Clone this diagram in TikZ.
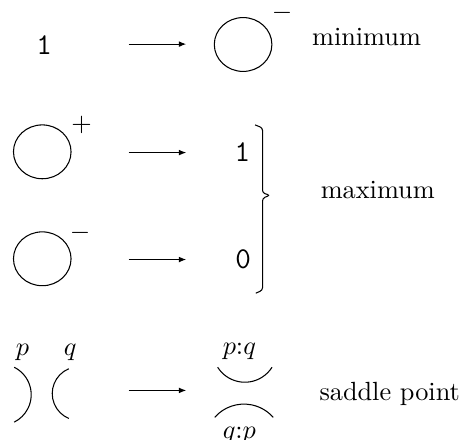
\documentclass[tikz,border=0pt]{standalone}
\usetikzlibrary{arrows.meta}
\begin{document}
\begin{tikzpicture}[
  arr/.style={-{Latex[length=2.8pt,width=2.2pt]}},
  digit/.style={font=\ttfamily\fontsize{11.5}{13}\selectfont},
  sign/.style={anchor=base, inner sep=0pt, text height=0.6em, text depth=0.1em},
  word/.style={anchor=base}]
\useasboundingbox (0,0) rectangle (6.257,-5.882);
% minimum
\coordinate (c1) at (3.25,-0.595);
\coordinate (a1s) at (1.72,-0.59);
\coordinate (a1e) at (2.49,-0.59);
\node[digit] (one1) at (0.59,-0.60) {1};
\draw[arr] (a1s) -- (a1e);
\draw (c1) ellipse [x radius=0.385, y radius=0.36];
\node[sign] (m1) at (3.77,-0.26) {$-$};
\node[word] (minw) at (4.90,-0.61) {minimum};
% maximum
\coordinate (c2) at (0.565,-2.03);
\coordinate (c3) at (0.565,-3.46);
\coordinate (a2s) at (1.72,-2.04);
\coordinate (a2e) at (2.49,-2.04);
\coordinate (a3s) at (1.72,-3.47);
\coordinate (a3e) at (2.49,-3.47);
\draw (c2) ellipse [x radius=0.385, y radius=0.36];
\draw (c3) ellipse [x radius=0.385, y radius=0.36];
\node[sign] (p2) at (1.09,-1.755) {$+$};
\node[sign] (m3) at (1.07,-3.20) {$-$};
\draw[arr] (a2s) -- (a2e);
\draw[arr] (a3s) -- (a3e);
\node[digit] (one2) at (3.24,-2.03) {1};
\node[digit] (zero3) at (3.25,-3.46) {0};
\draw[rounded corners=1pt] (3.41,-1.67) -- (3.51,-1.71) -- (3.51,-2.58) -- (3.61,-2.61)
  -- (3.51,-2.65) -- (3.51,-3.88) -- (3.42,-3.92);
\node[word] (maxw) at (5.05,-2.65) {maximum};
% saddle point
\node[word] (lp) at (0.30,-4.75) {$p$};
\node[word] (lq) at (0.94,-4.75) {$q$};
\draw (0.19,-4.91) arc [start angle=63.5, end angle=-63.5, radius=0.41];
\draw (0.92,-4.93) arc [start angle=112.6, end angle=247.4, radius=0.36];
\coordinate (a4s) at (1.72,-5.22);
\coordinate (a4e) at (2.49,-5.22);
\draw[arr] (a4s) -- (a4e);
\node[word] (lpq) at (3.20,-4.74) {$p{:}q$};
\draw (2.91,-4.91) arc [start angle=212.3, end angle=327.7, radius=0.43];
\draw (2.87,-5.58) arc [start angle=138.8, end angle=41.2, radius=0.52];
\node[word] (lqp) at (3.20,-5.86) {$q{:}p$};
\node[word] (sadw) at (5.21,-5.36) {saddle point};
\end{tikzpicture}
\end{document}
